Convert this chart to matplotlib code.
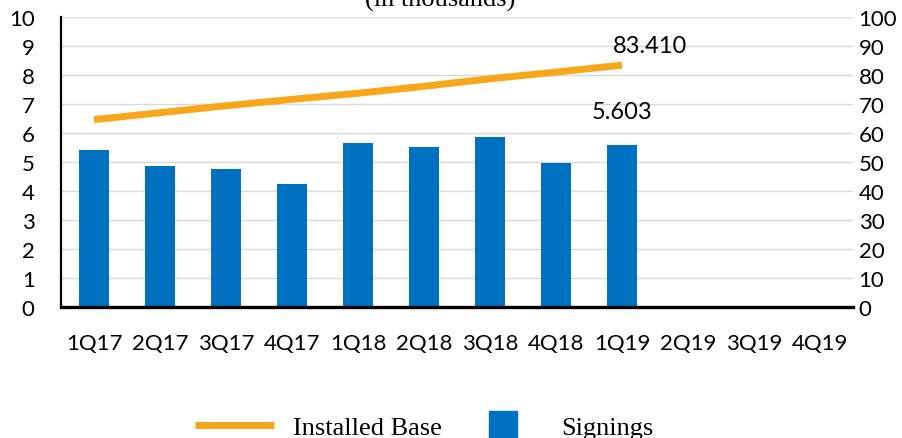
"""
Signings (bars, left axis) and Installed Base (line, right axis), in thousands.
"""
import matplotlib.pyplot as plt
from matplotlib.lines import Line2D

# ==================== data ====================
quarters = ["1Q17", "2Q17", "3Q17", "4Q17", "1Q18", "2Q18",
            "3Q18", "4Q18", "1Q19", "2Q19", "3Q19", "4Q19"]
signings = [5.41, 4.86, 4.76, 4.24, 5.66, 5.52, 5.86, 4.97, 5.603]
installed_base = [64.6, 67.0, 69.4, 71.6, 73.7, 76.1, 78.7, 81.0, 83.41]

BAR_COLOR = "#0070C0"
LINE_COLOR = "#FAA61A"
TICK_FONT = "Lato"
SERIF_FONT = "Liberation Serif"

fig = plt.figure(figsize=(9.02, 4.39), dpi=100)
ax = fig.add_axes([0.0676, 0.2984, 0.8781, 0.6606])
ax2 = ax.twinx()

x_all = range(len(quarters))
x_bar = range(len(signings))

# bars on the left axis
ax.bar(x_bar, signings, width=0.455, color=BAR_COLOR, zorder=2)
ax.set_xlim(-0.5, len(quarters) - 0.5)
ax.set_ylim(0, 10)
ax.set_yticks(range(0, 11))
ax.set_xticks(list(x_all))
ax.set_xticklabels(quarters)
ax.yaxis.grid(True, color="#D9D9D9", linewidth=1.0, zorder=0)
ax.set_axisbelow(True)

# line on the right axis
ax2.plot(list(x_bar), installed_base, color=LINE_COLOR, linewidth=5,
         solid_capstyle="butt", zorder=3)
ax2.set_ylim(0, 100)
ax2.set_yticks(range(0, 101, 10))

for a in (ax, ax2):
    a.spines["top"].set_visible(False)
    a.spines["right"].set_visible(False)
    a.tick_params(length=0)
    for lbl in a.get_xticklabels() + a.get_yticklabels():
        lbl.set_fontfamily(TICK_FONT)
        lbl.set_fontsize(16)
ax2.spines["left"].set_visible(False)
ax2.spines["bottom"].set_visible(False)
ax.spines["left"].set_linewidth(1.6)
ax.spines["bottom"].set_linewidth(2.4)
ax.tick_params(axis="y", pad=19)
ax.tick_params(axis="x", pad=19)
ax2.tick_params(axis="y", pad=4)

# data labels for the last point
ax2.annotate(f"{installed_base[-1]:.3f}", xy=(len(installed_base) - 1, installed_base[-1]),
             xytext=(20, 14), textcoords="offset points", ha="center", va="center",
             fontfamily=TICK_FONT, fontsize=17)
ax.annotate(f"{signings[-1]:.3f}", xy=(len(signings) - 1, signings[-1]),
            xytext=(0, 24), textcoords="offset points", ha="center", va="center",
            fontfamily=TICK_FONT, fontsize=17)

# title, cut off at the top like the original
fig.text(0.488, 0.984, "(in thousands)", ha="center", va="baseline",
         fontfamily=SERIF_FONT, fontsize=19)

# legend at the bottom
handles = [
    Line2D([], [], color=LINE_COLOR, linewidth=5, solid_capstyle="butt"),
    Line2D([], [], color=BAR_COLOR, marker="s", linestyle="none", markersize=19.5),
]
fig.legend(handles, ["Installed Base", "Signings"], loc="center",
           bbox_to_anchor=(0.4706, 0.024), ncol=2, frameon=False,
           prop={"family": SERIF_FONT, "size": 19},
           handlelength=3.0, handletextpad=0.72, columnspacing=0.8)

plt.savefig("out.png", dpi=100)
plt.close()
